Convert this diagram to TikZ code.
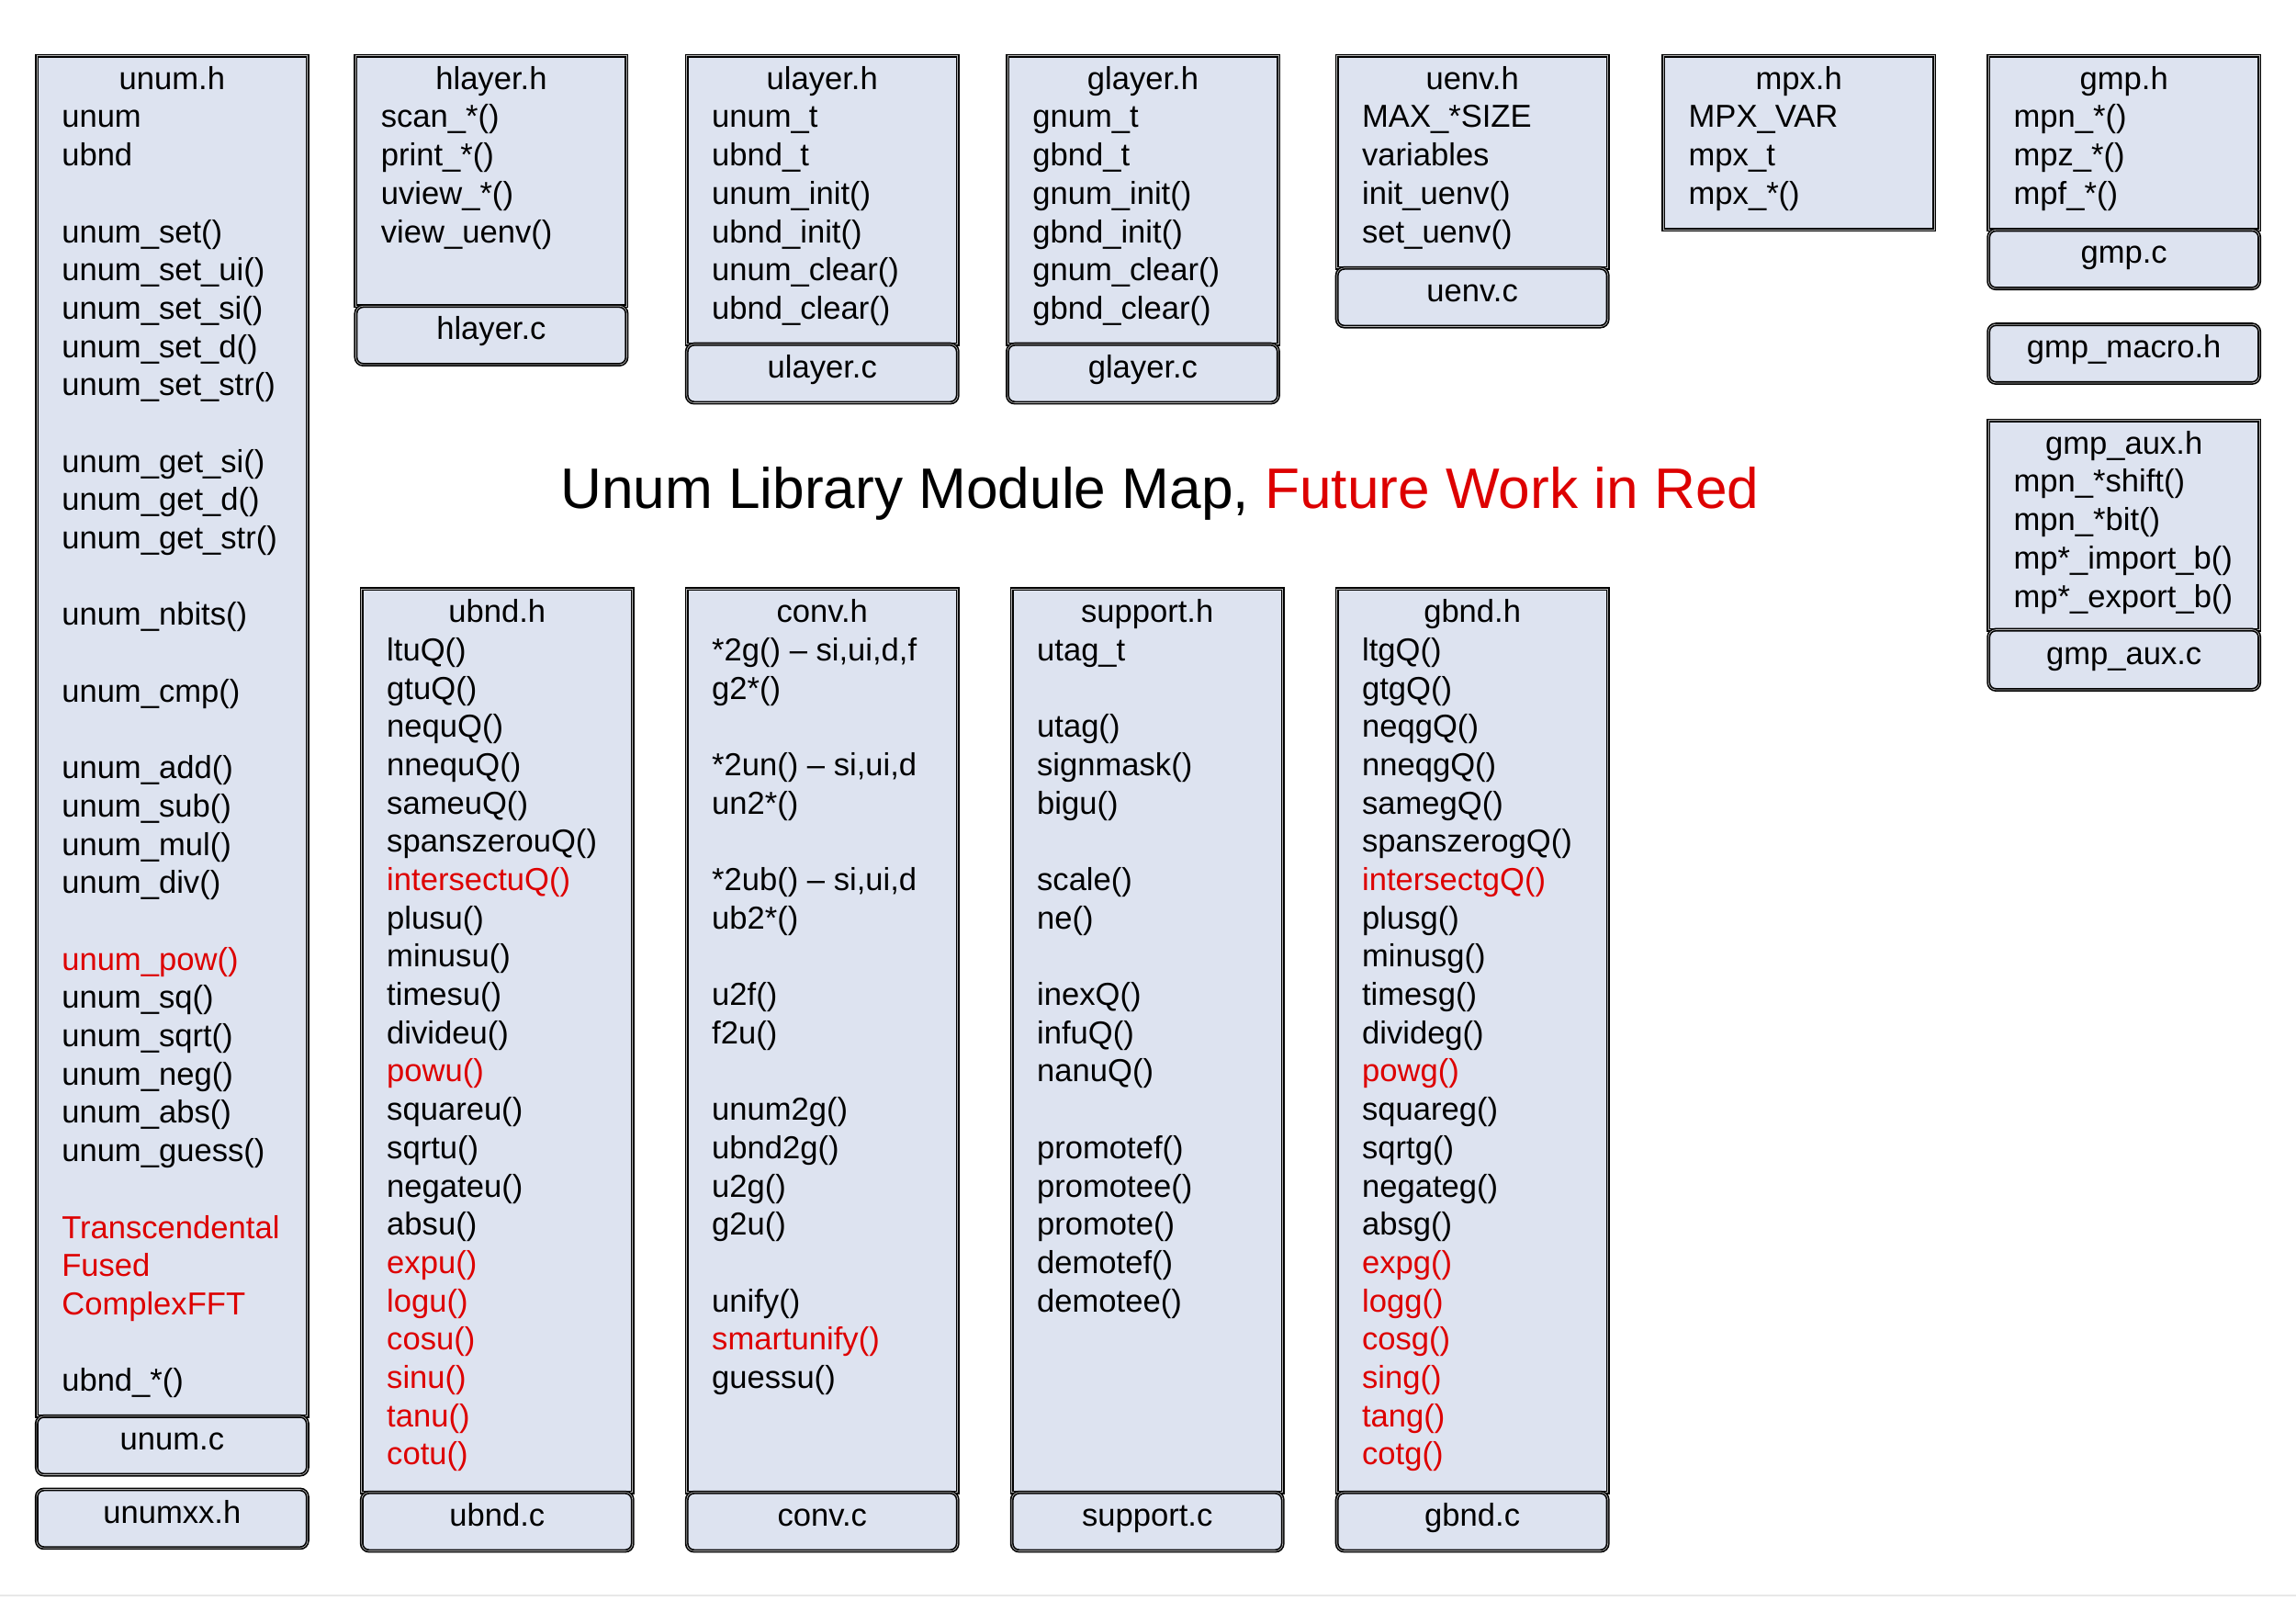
\documentclass[tikz,border=0pt]{standalone}
\usepackage{fontspec}
\setmainfont{Liberation Sans}
\usepackage{tikz}
\usetikzlibrary{calc}

\definecolor{boxfill}{RGB}{221,227,240}
\definecolor{futred}{RGB}{221,0,0}
\newcommand{\fsize}{\fontsize{21.7}{26}\selectfont}
\newcommand{\redfn}[1]{\textcolor{futred}{#1}}
% one line of a listing per entry, first baseline at (#2,#3)
\newcommand{\flines}[4]{%
  \foreach \txt [count=\k from 0] in {#4}
    \node[fline] (#1-\k) at (#2, #3+26.15*\k) {\txt};}

\tikzset{
  hfile/.style={draw=black, double=gray!60, double distance=0.45pt, line width=1pt, fill=boxfill},
  cfile/.style={hfile, rounded corners=5pt},
  fline/.style={anchor=base west, inner sep=0pt, font=\fsize},
  fhead/.style={anchor=base, inner sep=0pt, font=\fsize},
}

\begin{document}
\begin{tikzpicture}[x=1pt, y=-1pt]
  \useasboundingbox (0,0) rectangle (1568,1092.6);
  \fill[white] (0,0) rectangle (1568,1092.6);
  \draw[gray!18, line width=1pt] (0,1089.5) -- (1568,1089.5);

  % unum
  \draw[hfile] (25,38) rectangle (210,967);
  \draw[cfile] (25,967) rectangle (210,1007);
  \draw[cfile] (25,1017) rectangle (210,1057);
  \node[fhead] (unumh) at (117.5,61) {unum.h};
  \flines{unum}{42}{87.15}{unum, ubnd, {}, unum\_set(), unum\_set\_ui(), unum\_set\_si(), unum\_set\_d(), unum\_set\_str(), {}, unum\_get\_si(), unum\_get\_d(), unum\_get\_str(), {}, unum\_nbits(), {}, unum\_cmp(), {}, unum\_add(), unum\_sub(), unum\_mul(), unum\_div(), {}, \redfn{unum\_pow()}, unum\_sq(), unum\_sqrt(), unum\_neg(), unum\_abs(), unum\_guess(), {}, \redfn{Transcendental}, \redfn{Fused}, \redfn{ComplexFFT}, {}, ubnd\_*()}
  \node[fhead] (unumc) at (117.5,990) {unum.c};
  \node[fhead] (unumxx) at (117.5,1040) {unumxx.h};

  % hlayer
  \draw[hfile] (243,38) rectangle (428,209);
  \draw[cfile] (243,209) rectangle (428,249);
  \node[fhead] (hlayerh) at (335.5,61) {hlayer.h};
  \flines{hlayer}{260}{87.15}{scan\_*(), print\_*(), uview\_*(), view\_uenv()}
  \node[fhead] (hlayerc) at (335.5,232) {hlayer.c};

  % ulayer
  \draw[hfile] (469,38) rectangle (654,235);
  \draw[cfile] (469,235) rectangle (654,275);
  \node[fhead] (ulayerh) at (561.5,61) {ulayer.h};
  \flines{ulayer}{486}{87.15}{unum\_t, ubnd\_t, unum\_init(), ubnd\_init(), unum\_clear(), ubnd\_clear()}
  \node[fhead] (ulayerc) at (561.5,258) {ulayer.c};

  % glayer
  \draw[hfile] (688,38) rectangle (873,235);
  \draw[cfile] (688,235) rectangle (873,275);
  \node[fhead] (glayerh) at (780.5,61) {glayer.h};
  \flines{glayer}{705}{87.15}{gnum\_t, gbnd\_t, gnum\_init(), gbnd\_init(), gnum\_clear(), gbnd\_clear()}
  \node[fhead] (glayerc) at (780.5,258) {glayer.c};

  % uenv
  \draw[hfile] (913,38) rectangle (1098,183);
  \draw[cfile] (913,183) rectangle (1098,223);
  \node[fhead] (uenvh) at (1005.5,61) {uenv.h};
  \flines{uenv}{930}{87.15}{MAX\_*SIZE, variables, init\_uenv(), set\_uenv()}
  \node[fhead] (uenvc) at (1005.5,206) {uenv.c};

  % mpx
  \draw[hfile] (1136,38) rectangle (1321,157);
  \node[fhead] (mpxh) at (1228.5,61) {mpx.h};
  \flines{mpx}{1153}{87.15}{MPX\_VAR, mpx\_t, mpx\_*()}

  % gmp
  \draw[hfile] (1358,38) rectangle (1543,157);
  \draw[cfile] (1358,157) rectangle (1543,197);
  \node[fhead] (gmph) at (1450.5,61) {gmp.h};
  \flines{gmp}{1375}{87.15}{mpn\_*(), mpz\_*(), mpf\_*()}
  \node[fhead] (gmpc) at (1450.5,180) {gmp.c};
  \draw[cfile] (1358,221.5) rectangle (1543,261.5);
  \node[fhead] (gmpmacro) at (1450.5,244.5) {gmp\_macro.h};
  \draw[hfile] (1358,287) rectangle (1543,430);
  \draw[cfile] (1358,430) rectangle (1543,471);
  \node[fhead] (gmpauxh) at (1450.5,310) {gmp\_aux.h};
  \flines{gmpaux}{1375}{336.15}{mpn\_*shift(), mpn\_*bit(), mp*\_import\_b(), mp*\_export\_b()}
  \node[fhead] (gmpauxc) at (1450.5,454) {gmp\_aux.c};

  % title
  \node[anchor=base, inner sep=0pt, font=\fontsize{39}{46}\selectfont] (title) at (792,347)
    {Unum Library Module Map, \redfn{Future Work in Red}};

  % ubnd
  \draw[hfile] (247,402) rectangle (432,1019);
  \draw[cfile] (247,1019) rectangle (432,1059);
  \node[fhead] (ubndh) at (339.5,425) {ubnd.h};
  \flines{ubnd}{264}{451.15}{ltuQ(), gtuQ(), nequQ(), nnequQ(), sameuQ(), spanszerouQ(), \redfn{intersectuQ()}, plusu(), minusu(), timesu(), divideu(), \redfn{powu()}, squareu(), sqrtu(), negateu(), absu(), \redfn{expu()}, \redfn{logu()}, \redfn{cosu()}, \redfn{sinu()}, \redfn{tanu()}, \redfn{cotu()}}
  \node[fhead] (ubndc) at (339.5,1042) {ubnd.c};

  % conv
  \draw[hfile] (469,402) rectangle (654,1019);
  \draw[cfile] (469,1019) rectangle (654,1059);
  \node[fhead] (convh) at (561.5,425) {conv.h};
  \flines{conv}{486}{451.15}{{*2g() -- si,ui,d,f}, g2*(), {}, {*2un() -- si,ui,d}, un2*(), {}, {*2ub() -- si,ui,d}, ub2*(), {}, u2f(), f2u(), {}, unum2g(), ubnd2g(), u2g(), g2u(), {}, unify(), \redfn{smartunify()}, guessu()}
  \node[fhead] (convc) at (561.5,1042) {conv.c};

  % support
  \draw[hfile] (691,402) rectangle (876,1019);
  \draw[cfile] (691,1019) rectangle (876,1059);
  \node[fhead] (supporth) at (783.5,425) {support.h};
  \flines{support}{708}{451.15}{utag\_t, {}, utag(), signmask(), bigu(), {}, scale(), ne(), {}, inexQ(), infuQ(), nanuQ(), {}, promotef(), promotee(), promote(), demotef(), demotee()}
  \node[fhead] (supportc) at (783.5,1042) {support.c};

  % gbnd
  \draw[hfile] (913,402) rectangle (1098,1019);
  \draw[cfile] (913,1019) rectangle (1098,1059);
  \node[fhead] (gbndh) at (1005.5,425) {gbnd.h};
  \flines{gbnd}{930}{451.15}{ltgQ(), gtgQ(), neqgQ(), nneqgQ(), samegQ(), spanszerogQ(), \redfn{intersectgQ()}, plusg(), minusg(), timesg(), divideg(), \redfn{powg()}, squareg(), sqrtg(), negateg(), absg(), \redfn{expg()}, \redfn{logg()}, \redfn{cosg()}, \redfn{sing()}, \redfn{tang()}, \redfn{cotg()}}
  \node[fhead] (gbndc) at (1005.5,1042) {gbnd.c};
\end{tikzpicture}
\end{document}
